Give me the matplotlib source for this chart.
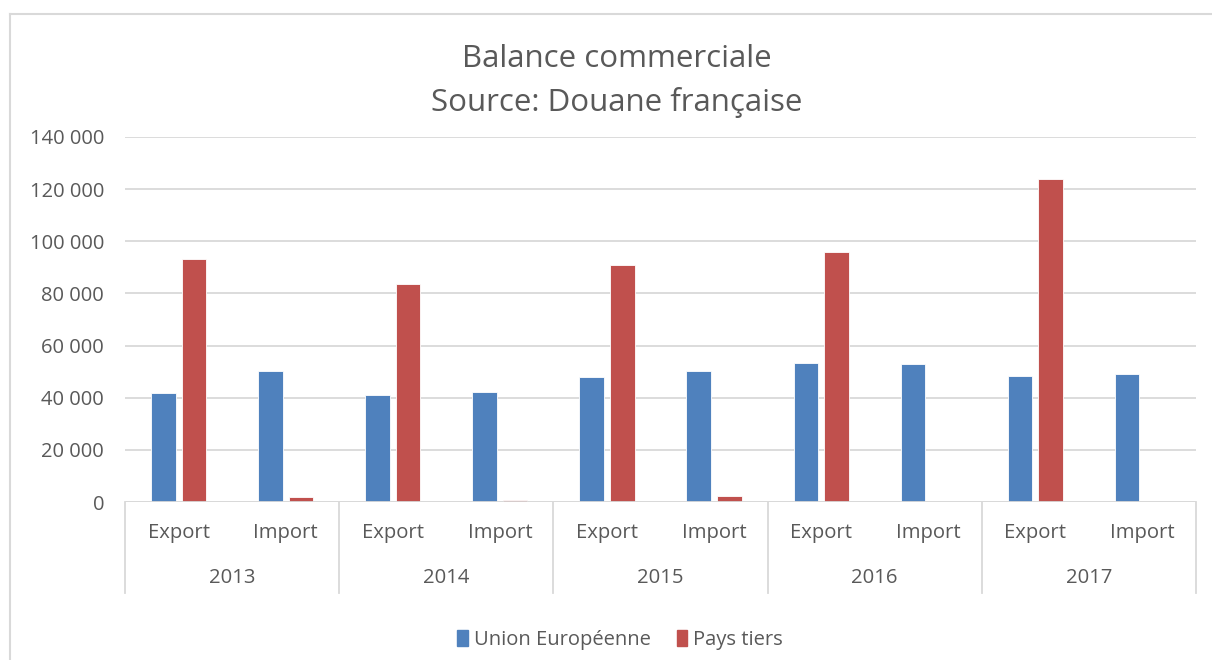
import matplotlib
matplotlib.use("Agg")
import matplotlib.pyplot as plt
from matplotlib.lines import Line2D
from matplotlib.patches import Patch
import matplotlib.transforms as mtransforms
import numpy as np

# data
years = ["2013", "2014", "2015", "2016", "2017"]
flows = ["Export", "Import"]
union_europeenne = [41800, 50400, 40900, 42300, 47900, 50400, 53300, 52800, 48500, 49000]
pays_tiers = [93300, 1800, 83700, 700, 90900, 2200, 95700, 0, 123900, 0]
yticks = [0, 20000, 40000, 60000, 80000, 100000, 120000, 140000]

BLUE = "#4F81BD"
RED = "#C0504D"
GREY = "#595959"
GRID = "#D9D9D9"

plt.rcParams['font.family'] = ['Open Sans', 'DejaVu Sans']

W, H = 1212, 660
fig = plt.figure(figsize=(W / 100, H / 100), dpi=100)
ax = fig.add_axes([125 / W, 1 - 502 / H, (1196 - 125) / W, (502 - 137) / H])

x = np.arange(len(union_europeenne))
ax.bar(x - 0.143, union_europeenne, width=0.23, color=BLUE, edgecolor="white", linewidth=0.6, zorder=3)
ax.bar(x + 0.143, pays_tiers, width=0.23, color=RED, edgecolor="white", linewidth=0.6, zorder=3)

ax.set_xlim(-0.5, len(x) - 0.5)
ax.set_ylim(0, 140000)
ax.set_yticks(yticks)
ax.set_yticklabels([f"{v:,}".replace(",", " ") for v in yticks], fontsize=14.5, color=GREY)
ax.tick_params(axis="y", length=0, pad=15)
ax.set_xticks([])
ax.grid(axis="y", color=GRID, linewidth=1.3, zorder=0)
for s in ax.spines.values():
    s.set_visible(False)
ax.axhline(0, color=GRID, linewidth=1.3, zorder=4)

# two-level category axis
trans = mtransforms.blended_transform_factory(ax.transData, ax.transAxes)
for i in x:
    ax.text(i, -0.085, flows[i % 2], transform=trans, ha="center", va="center",
            fontsize=14.6, color=GREY)
for g, yr in enumerate(years):
    ax.text(2 * g + 0.5, -0.208, yr, transform=trans, ha="center", va="center",
            fontsize=14.6, color=GREY)
for b in range(len(years) + 1):
    ax.plot([2 * b - 0.5, 2 * b - 0.5], [0, -0.249], transform=trans, color=GRID,
            linewidth=1.3, clip_on=False)

fig.text(617 / W, 1 - 59 / H, "Balance commerciale", ha="center", va="center",
         fontsize=22.5, color=GREY)
fig.text(617 / W, 1 - 102 / H, "Source: Douane française", ha="center", va="center",
         fontsize=22.5, color=GREY)

handles = [Patch(color=BLUE), Patch(color=RED)]
fig.legend(handles, ["Union Européenne", "Pays tiers"], loc="center",
           bbox_to_anchor=(620 / W, 1 - 640 / H), ncol=2, frameon=False,
           fontsize=14.5, labelcolor=GREY, handlelength=0.5, handleheight=0.8,
           handletextpad=0.3, columnspacing=1.3)

# outer chart border (cut by the image edges)
fig.add_artist(Line2D([10 / W, 10 / W], [0, 1 - 14 / H], color=GRID, linewidth=1.5))
fig.add_artist(Line2D([10 / W, 1], [1 - 14 / H, 1 - 14 / H], color=GRID, linewidth=1.5))

fig.savefig("out.png", dpi=100, facecolor="white")
